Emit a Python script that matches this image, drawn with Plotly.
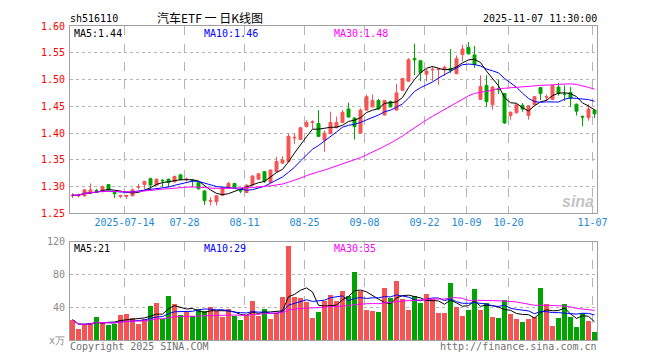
import pandas as pd
import plotly.graph_objects as go

# ---- data ----
trade_days = [d.strftime("%Y-%m-%d") for d in pd.bdate_range("2025-07-01", "2025-11-07")
              if not ("2025-10-01" <= d.strftime("%Y-%m-%d") <= "2025-10-08")]

open_ = [1.283, 1.283, 1.283, 1.288, 1.293, 1.291, 1.304, 1.289, 1.282, 1.282,
         1.283, 1.299, 1.304, 1.315, 1.303, 1.312, 1.314, 1.309, 1.322, 1.313,
         1.312, 1.308, 1.292, 1.273, 1.272, 1.284, 1.297, 1.306, 1.293, 1.289,
         1.303, 1.314, 1.328, 1.308, 1.328, 1.344, 1.347, 1.391, 1.388, 1.412,
         1.420, 1.418, 1.387, 1.399, 1.410, 1.420, 1.445, 1.428, 1.400, 1.443,
         1.449, 1.461, 1.434, 1.459, 1.443, 1.480, 1.497, 1.539, 1.535, 1.510,
         1.518, 1.519, 1.519, 1.521, 1.511, 1.547, 1.560, 1.546, 1.463, 1.489,
         1.453, 1.483, 1.474, 1.433, 1.438, 1.452, 1.433, 1.453, 1.485, 1.467,
         1.463, 1.486, 1.473, 1.476, 1.454, 1.431, 1.429, 1.443]
high = [1.288, 1.287, 1.296, 1.306, 1.296, 1.302, 1.305, 1.290, 1.285, 1.285,
        1.297, 1.305, 1.311, 1.317, 1.315, 1.314, 1.315, 1.321, 1.324, 1.317,
        1.314, 1.309, 1.293, 1.280, 1.284, 1.299, 1.309, 1.307, 1.296, 1.304,
        1.321, 1.325, 1.329, 1.332, 1.356, 1.357, 1.399, 1.399, 1.412, 1.424,
        1.424, 1.443, 1.405, 1.440, 1.431, 1.443, 1.457, 1.430, 1.446, 1.472,
        1.472, 1.464, 1.462, 1.461, 1.492, 1.503, 1.540, 1.567, 1.536, 1.520,
        1.525, 1.522, 1.526, 1.557, 1.545, 1.565, 1.570, 1.563, 1.508, 1.508,
        1.488, 1.500, 1.475, 1.440, 1.455, 1.456, 1.452, 1.469, 1.486, 1.472,
        1.490, 1.494, 1.489, 1.486, 1.455, 1.433, 1.454, 1.444]
low = [1.279, 1.280, 1.281, 1.286, 1.289, 1.289, 1.293, 1.279, 1.279, 1.277,
       1.282, 1.295, 1.296, 1.296, 1.302, 1.299, 1.299, 1.308, 1.312, 1.310,
       1.299, 1.295, 1.266, 1.265, 1.265, 1.283, 1.296, 1.297, 1.288, 1.288,
       1.302, 1.313, 1.307, 1.307, 1.327, 1.343, 1.346, 1.380, 1.387, 1.411,
       1.408, 1.393, 1.365, 1.398, 1.409, 1.419, 1.429, 1.388, 1.399, 1.442,
       1.448, 1.444, 1.433, 1.448, 1.442, 1.479, 1.496, 1.508, 1.497, 1.497,
       1.497, 1.490, 1.507, 1.512, 1.510, 1.534, 1.547, 1.522, 1.462, 1.449,
       1.444, 1.473, 1.417, 1.425, 1.437, 1.440, 1.425, 1.452, 1.462, 1.460,
       1.462, 1.470, 1.460, 1.449, 1.433, 1.413, 1.423, 1.428]
close = [1.284, 1.284, 1.294, 1.294, 1.292, 1.300, 1.294, 1.287, 1.283, 1.283,
         1.294, 1.300, 1.310, 1.303, 1.314, 1.311, 1.308, 1.319, 1.313, 1.314,
         1.311, 1.296, 1.274, 1.274, 1.283, 1.298, 1.306, 1.298, 1.292, 1.303,
         1.320, 1.324, 1.310, 1.331, 1.347, 1.350, 1.394, 1.392, 1.410, 1.420,
         1.421, 1.394, 1.400, 1.420, 1.420, 1.439, 1.430, 1.412, 1.443, 1.468,
         1.461, 1.445, 1.461, 1.449, 1.475, 1.502, 1.537, 1.537, 1.513, 1.516,
         1.519, 1.520, 1.523, 1.517, 1.539, 1.557, 1.548, 1.528, 1.487, 1.459,
         1.486, 1.481, 1.419, 1.439, 1.453, 1.445, 1.451, 1.468, 1.474, 1.468,
         1.489, 1.474, 1.472, 1.465, 1.441, 1.430, 1.445, 1.436]
volume = [24.8, 14.0, 18.7, 21.5, 28.0, 21.5, 18.7, 20.0, 31.0, 32.0,
          26.7, 20.0, 25.5, 41.5, 45.0, 26.0, 53.5, 44.0, 31.0, 35.0,
          29.5, 37.5, 36.0, 40.2, 36.0, 28.3, 37.8, 29.5, 24.7, 31.0,
          47.4, 29.5, 37.8, 25.9, 32.7, 52.5, 115.6, 52.5, 51.0, 47.0,
          27.3, 34.4, 48.0, 55.8, 47.8, 60.6, 53.6, 83.5, 60.3, 36.7,
          35.5, 33.9, 63.4, 51.8, 72.5, 49.8, 36.7, 53.4, 45.0, 57.0,
          50.6, 33.0, 33.0, 70.1, 40.2, 29.9, 36.7, 63.0, 36.7, 45.8,
          28.3, 27.1, 48.6, 31.9, 26.3, 22.3, 25.9, 28.3, 64.1, 43.8,
          16.7, 27.1, 43.8, 28.3, 16.3, 33.0, 23.5, 10.4]

tick_dates = ["2025-07-14", "2025-07-28", "2025-08-11", "2025-08-25", "2025-09-08",
              "2025-09-22", "2025-10-09", "2025-10-20", "2025-11-07"]
tick_labels = ["2025-07-14", "07-28", "08-11", "08-25", "09-08",
               "09-22", "10-09", "10-20", "11-07"]

# ---- derived ----
idx = list(range(len(trade_days)))
cs = pd.Series(close)
vs = pd.Series(volume)
ma5, ma10, ma30 = [cs.rolling(n, min_periods=1).mean() for n in (5, 10, 30)]
vma5, vma10, vma30 = [vs.rolling(n, min_periods=1).mean() for n in (5, 10, 30)]

RED = "#f65454"
GREEN = "#00a400"
MONO = "DejaVu Sans Mono"
vol_colors = [RED if c >= o else GREEN for o, c in zip(open_, close)]
tickpos = [trade_days.index(d) - 0.33 for d in tick_dates]

fig = go.Figure()
fig.add_trace(go.Candlestick(
    x=idx, open=open_, high=high, low=low, close=close,
    increasing=dict(line=dict(color=RED, width=1), fillcolor=RED),
    decreasing=dict(line=dict(color=GREEN, width=1), fillcolor=GREEN),
    whiskerwidth=0, xaxis="x", yaxis="y", showlegend=False, hoverinfo="skip"))
for s, col in ((ma5, "#000000"), (ma10, "#0000ff"), (ma30, "#ff00ff")):
    fig.add_trace(go.Scatter(x=idx, y=s, mode="lines", line=dict(color=col, width=1),
                             xaxis="x", yaxis="y", showlegend=False, hoverinfo="skip"))
fig.add_trace(go.Bar(x=idx, y=volume, marker=dict(color=vol_colors, line=dict(width=0)),
                     width=0.78, xaxis="x2", yaxis="y2", showlegend=False, hoverinfo="skip"))
for s, col in ((vma5, "#000000"), (vma10, "#0000ff"), (vma30, "#ff00ff")):
    fig.add_trace(go.Scatter(x=idx, y=s, mode="lines", line=dict(color=col, width=1),
                             xaxis="x2", yaxis="y2", showlegend=False, hoverinfo="skip"))

xr = [-0.4167, len(idx) - 1 + 0.4167]
common_x = dict(range=xr, tickvals=tickpos, showgrid=True, gridcolor="#b4b4b4",
                griddash="dash", gridwidth=1, showline=True, mirror=True,
                linecolor="#a0a0a0", linewidth=1, zeroline=False, ticks="",
                fixedrange=True)
# the page body adds an 8px offset; the plot area is placed at x 70-597, y 20-340 of the window
fig.update_layout(
    width=652, height=352, margin=dict(l=62, r=63, t=12, b=20),
    paper_bgcolor="white", plot_bgcolor="white", bargap=0,
    xaxis=dict(domain=[0, 1], anchor="y", ticktext=tick_labels,
               tickfont=dict(family=MONO, size=10, color="#1a88d6"),
               rangeslider=dict(visible=False), **common_x),
    yaxis=dict(domain=[0.403, 1], range=[1.25, 1.60], dtick=0.05, tick0=1.25,
               tickformat=".2f", showgrid=True, gridcolor="#b4b4b4", griddash="dot",
               showline=True, mirror=True, linecolor="#a0a0a0", zeroline=False,
               tickfont=dict(family=MONO, size=10, color="#ff0000"), ticks="",
               ticklabelstandoff=2),
    xaxis2=dict(domain=[0, 1], anchor="y2", showticklabels=False, **common_x),
    yaxis2=dict(domain=[0, 0.3125], range=[0, 120], tickvals=[0, 40, 80, 120],
                ticktext=["x万", "40", "80", "120"], showgrid=True, gridcolor="#b4b4b4",
                griddash="dot", showline=True, mirror=True, linecolor="#a0a0a0",
                zeroline=False, tickfont=dict(family=MONO, size=10, color="#8a8a8a"),
                ticks="", ticklabelstandoff=2),
)

def px(x):
    return (x - 70) / 527.0

def py(y):
    return (340 - y) / 320.0

def note(text, x, y, color="#000000", anchor="left", size=10, family=MONO):
    fig.add_annotation(text=text, x=px(x), y=py(y), xref="paper", yref="paper",
                       xanchor=anchor, yanchor="middle", showarrow=False,
                       font=dict(family=family, size=size, color=color), borderpad=0)

note("sh516110", 69, 12)
note("汽车ETF 一 日K线图", 210, 11.5, anchor="center", size=12,
     family="Noto Sans CJK SC")
note("2025-11-07 11:30:00", 598, 12)
fig.layout.annotations[-1].xanchor = "right"
note("MA5:%.2f" % ma5.iloc[-1], 73, 27.5)
note("MA10:%.2f" % ma10.iloc[-1], 203, 27.5, color="#0000ff")
note("MA30:%.2f" % ma30.iloc[-1], 333, 27.5, color="#ff00ff")
note("MA5:21", 73, 247)
note("MA10:29", 203, 247, color="#0000ff")
note("MA30:35", 333, 247, color="#ff00ff")
note("Copyright 2025 SINA.COM", 69, 346.5, color="#707070")
note("http://finance.sina.com.cn", 598, 346.5, color="#707070", anchor="right")
note("<i><b>sina</b></i>", 578, 199, color="rgba(175,175,175,0.75)", anchor="center",
     size=16, family="Liberation Sans")

fig.write_html("out.html")
